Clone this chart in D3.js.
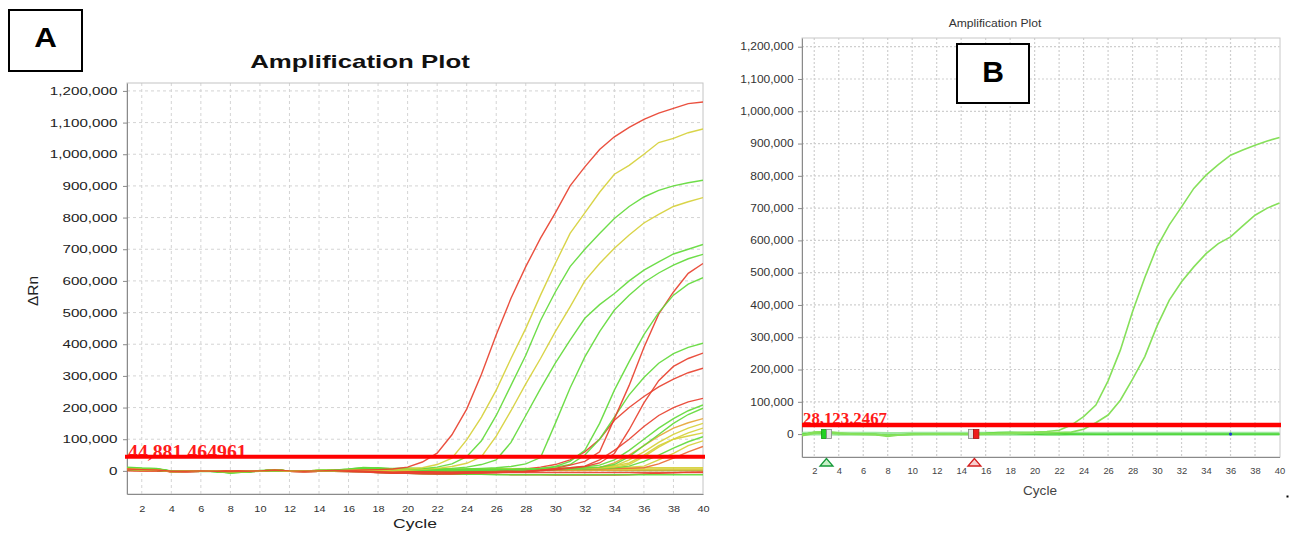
<!DOCTYPE html>
<html><head><meta charset="utf-8">
<script src="https://cdn.jsdelivr.net/npm/d3@7"></script>
<style>
body{margin:0;background:#fff;}
svg{display:block;font-family:"Liberation Sans",Arial,sans-serif;}
</style>
</head><body>
<svg id="c" width="1289" height="538"></svg>
<script>
// ---------- DATA (ΔRn values in thousands) ----------
const cycles = [1,2,3,4,5,6,7,8,9,10,11,12,13,14,15,16,17,18,19,20,21,22,23,24,25,26,27,28,29,30,31,32,33,34,35,36,37,38,39,40];
const xTickValues = [2,4,6,8,10,12,14,16,18,20,22,24,26,28,30,32,34,36,38,40];
const yTickValues = [0,100,200,300,400,500,600,700,800,900,1000,1100,1200];

const titleA = "Amplification Plot";
const titleB = "Amplification Plot";
const thresholdA = 44.881464961;   // thousands
const thresholdALabel = "44,881.464961";
const thresholdB = 28.1232467;
const thresholdBLabel = "28,123.2467";

// Panel A wells
const curveA01 = [6,4,3,-1,-1,0,-1,-2,-1,0,3,0,-1,0,1,1,3,4,6,12,28,56,114,195,305,430,545,645,735,815,900,960,1015,1055,1085,1110,1130,1145,1160,1165];
const curveA02 = [8,5,4,-2,-1,0,-1,-3,-2,0,2,-1,-1,0,0,2,4,3,5,6,10,20,40,98,170,255,355,450,555,655,750,815,880,937,965,1000,1037,1050,1068,1080];
const curveA03 = [12,9,8,0,-1,0,-2,-7,-4,1,3,0,-1,1,2,6,10,7,4,5,7,12,22,45,95,175,270,365,475,565,645,700,750,797,835,865,886,900,910,918];
const curveA04 = [5,3,3,-1,0,0,-1,-3,-2,0,3,0,0,1,2,2,3,2,1,2,5,8,14,24,45,110,190,275,355,440,518,600,655,703,745,783,810,835,850,863];
const curveA05 = [10,7,6,-1,-1,0,-2,-5,-3,0,2,0,-1,0,1,3,5,6,8,9,8,7,8,12,20,35,90,175,260,340,413,482,525,560,600,634,660,685,700,715];
const curveA06 = [4,3,2,-2,-1,0,-1,-4,-2,0,2,0,-1,0,1,3,6,8,5,3,2,3,5,6,8,10,14,22,42,150,262,360,440,508,555,595,625,650,670,684];
const curveA07 = [9,6,5,-1,-1,0,-2,-4,-3,0,2,0,0,1,1,4,8,10,6,4,3,4,3,5,4,6,5,7,8,14,30,65,150,255,345,430,500,555,590,610];
const curveA08 = [3,2,2,-2,-2,-1,-1,-2,-1,-1,3,-1,-2,-1,0,0,1,-3,-5,-4,-2,-3,-4,-3,-5,-4,-3,-2,2,8,18,30,60,165,270,390,495,565,624,655];
const curveA09 = [7,5,4,-1,-1,0,-1,-4,-2,0,2,0,-1,0,1,2,4,5,4,3,2,1,0,1,2,3,4,6,8,12,20,50,100,170,240,295,340,370,390,403];
const curveA10 = [2,1,1,-2,-2,-1,-1,-2,-1,-1,2,-1,-2,-1,-1,-2,-3,-6,-8,-7,-6,-8,-9,-7,-6,-5,-4,-3,0,4,8,14,25,55,130,215,285,330,355,372];
const curveA11 = [4,2,2,-1,-1,0,-1,-2,-1,0,3,0,-1,0,0,1,0,-2,-3,-2,-3,-4,-3,-2,-1,0,3,6,12,20,35,60,100,160,200,235,265,290,310,324];
const curveA12 = [1,0,0,-2,-2,-1,-1,-2,-2,-1,2,-1,-2,-1,-1,-1,-2,-4,-6,-8,-9,-10,-9,-8,-7,-5,-3,-1,2,5,10,15,35,65,100,140,175,200,218,229];
const curveA13 = [6,5,4,-1,-1,0,-2,-5,-3,0,2,0,-1,1,2,4,7,6,4,2,1,0,-1,0,1,2,3,4,5,7,10,13,18,35,65,100,135,165,190,208];
const curveA14 = [8,6,5,-1,-1,0,-1,-4,-3,0,2,0,0,1,2,3,5,4,3,2,1,1,0,0,1,1,2,3,4,5,6,9,12,20,45,80,115,150,178,198];
const curveA15 = [2,1,1,-2,-1,0,-1,-2,-1,0,2,-1,-1,0,0,0,-1,-2,-3,-3,-2,-2,-1,0,1,2,3,4,5,6,7,8,10,25,50,80,110,135,152,165];
const curveA16 = [3,2,2,-2,-1,0,-1,-2,-1,0,2,0,-1,0,1,1,2,1,0,-1,0,1,2,2,3,3,4,4,5,6,7,8,10,15,35,60,90,115,135,150];
const curveA17 = [4,3,3,-1,-1,0,-1,-2,-1,0,2,0,0,0,1,1,2,2,1,1,2,2,3,3,4,4,5,5,6,6,7,8,9,12,20,45,75,100,120,135];
const curveA18 = [5,3,3,-1,-1,0,-1,-2,-2,0,2,0,0,1,1,2,3,2,2,1,1,2,2,3,3,4,4,5,6,7,8,10,12,16,25,50,80,100,110,120];
const curveA19 = [9,7,6,-1,-1,0,-2,-6,-4,0,2,0,-1,0,1,3,6,7,5,3,2,1,0,0,1,1,2,2,3,4,5,6,7,10,15,30,50,72,92,108];
const curveA20 = [2,1,1,-2,-2,-1,-1,-2,-1,-1,2,-1,-2,-1,-1,-1,-2,-3,-4,-4,-4,-3,-3,-2,-2,-1,0,1,2,3,4,5,6,7,8,10,22,40,60,77];
const curveA21 = [3,2,2,-1,-1,0,-1,-2,-1,0,2,0,-1,0,0,1,2,2,2,2,3,3,3,4,4,5,5,6,6,7,8,9,10,11,12,15,35,55,80,95];
const curveA22 = [4,3,3,-1,-1,0,-1,-2,-1,0,2,0,0,1,1,2,3,3,4,4,5,5,6,6,7,7,7,8,8,8,8,9,9,9,9,10,10,10,10,10];
const curveA23 = [2,1,1,-1,-1,0,-1,-2,-1,0,2,0,-1,0,0,1,1,1,2,2,2,2,3,3,3,3,4,4,4,4,4,5,5,5,5,5,6,6,6,6];
const curveA24 = [1,1,0,-2,-2,-1,-1,-2,-2,-1,2,-1,-2,-1,-1,-1,-2,-3,-4,-4,-4,-4,-5,-5,-5,-5,-5,-5,-5,-5,-5,-5,-5,-5,-5,-5,-5,-5,-5,-5];
const curveA25 = [3,2,2,-2,-2,-1,-2,-6,-4,-1,1,-1,-2,-1,-1,-2,-3,-5,-7,-8,-9,-10,-10,-11,-11,-12,-12,-12,-12,-12,-12,-12,-12,-12,-12,-12,-12,-12,-12,-12];
const curveA26 = [2,1,1,-2,-2,-1,-1,-2,-2,-1,2,-1,-2,-1,-1,-2,-3,-5,-7,-8,-9,-10,-10,-11,-11,-11,-12,-12,-12,-13,-13,-13,-13,-13,-12,-10,-8,-6,-4,-3];
const curveA27 = [3,2,2,-1,-1,0,-1,-2,-1,0,2,0,-1,0,0,1,2,2,2,3,3,3,3,3,2,2,2,1,1,1,1,1,2,2,2,3,3,3,3,3];
const curveA28 = [10,8,7,-1,-1,0,-1,-5,-3,0,2,0,0,1,2,5,11,9,7,5,4,4,3,3,3,2,2,2,2,2,2,2,2,1,1,1,1,1,1,1];

const seriesA = [curveA01,curveA02,curveA03,curveA04,curveA05,curveA06,curveA07,curveA08,curveA09,curveA10,
                 curveA11,curveA12,curveA13,curveA14,curveA15,curveA16,curveA17,curveA18,curveA19,curveA20,
                 curveA21,curveA22,curveA23,curveA24,curveA25,curveA26,curveA27,curveA28];
const groupA = ["red","yellow","green","yellow","green","green","green","red","green","red",
                "red","red","green","green","orange","yellow","yellow","yellow","green","orangered",
                "yellow","yellow","yellow","red","green","red","orange","green"];

// Panel B wells
const curveB01 = [-3,6,8,4,1,0,-2,-7,-3,-1,0,1,0,0,1,2,3,4,5,6,8,12,28,54,90,165,260,380,485,580,648,704,761,802,835,864,880,895,908,919];
const curveB02 = [-5,2,4,1,0,-1,-1,-4,-2,0,0,0,1,0,-1,0,1,2,3,4,4,5,6,15,35,59,105,170,240,335,415,472,518,559,590,611,645,678,700,716];
const curveB03 = [0,4,3,1,0,0,-1,-3,-2,-1,0,0,1,1,2,3,5,6,5,4,3,2,1,0,-1,-1,0,0,0,0,0,0,0,0,0,0,0,0,0,0];
const curveB04 = [-2,5,6,2,1,0,-1,-5,-2,0,1,0,0,1,0,1,2,1,0,-1,-2,-2,-1,0,0,0,0,0,0,0,0,0,0,0,0,0,0,0,0,0];
const curveB05 = [1,2,2,1,1,1,1,0,0,1,1,1,1,1,1,1,1,1,1,1,1,1,1,1,1,1,1,1,1,1,1,1,1,1,1,1,1,1,1,1];
const baselineStartB = 3;
const baselineEndB = 15;
const bluePointB = [36, 0];

// ---------- STYLE ----------
const palette = {red:"#e8412f", yellow:"#d6d03a", green:"#62da3a", orange:"#e6a53a", orangered:"#ea6a36"};
const svg = d3.select("#c");

function stretchedText(g, x, y, sx, txt, opts){
  const t = g.append("text").attr("transform",`translate(${x},${y}) scale(${sx},1)`).text(txt);
  for (const k in opts) t.attr(k, opts[k]);
  return t;
}

// ================= PANEL A =================
const xA = d3.scaleLinear().domain([1,40]).range([127,703]);
const yA = d3.scaleLinear().domain([-73,1225]).range([494,83]);
const gA = svg.append("g");

gA.append("defs").append("clipPath").attr("id","clipA").append("rect")
  .attr("x",xA(1)).attr("y",yA(1225)).attr("width",xA(40)-xA(1)).attr("height",yA(-73)-yA(1225));

// grid
gA.append("g").selectAll("line").data(xTickValues.filter(d=>d<40)).join("line")
  .attr("x1",d=>xA(d)).attr("x2",d=>xA(d)).attr("y1",yA(1225)).attr("y2",yA(-73))
  .attr("stroke","#d4d4d4").attr("stroke-dasharray","3,3");
gA.append("g").selectAll("line").data(yTickValues).join("line")
  .attr("x1",xA(1)).attr("x2",xA(40)).attr("y1",d=>yA(d)).attr("y2",d=>yA(d))
  .attr("stroke","#d4d4d4").attr("stroke-dasharray","3,3");
gA.append("rect").attr("x",xA(1)).attr("y",yA(1225)).attr("width",xA(40)-xA(1)).attr("height",yA(-73)-yA(1225))
  .attr("fill","none").attr("stroke","#c4c4c4");

// axes
const axA = gA.append("g").attr("transform",`translate(${xA(1)},0)`)
  .call(d3.axisLeft(yA).tickValues(yTickValues).tickSize(4).tickSizeOuter(0).tickFormat(d=>d3.format(",")(d*1000)));
axA.select(".domain").attr("stroke","#8a8a8a");
axA.selectAll(".tick line").attr("stroke","#8a8a8a");
axA.selectAll(".tick text").attr("font-size",11).attr("fill","#222").attr("font-family","Liberation Sans, Arial")
  .attr("transform","scale(1.38,1)");
const bxA = gA.append("g").attr("transform",`translate(0,${yA(-73)})`)
  .call(d3.axisBottom(xA).tickValues(xTickValues).tickSize(0).tickPadding(11).tickSizeOuter(0));
bxA.select(".domain").attr("stroke","#8a8a8a");
bxA.selectAll(".tick text").attr("font-size",9.5).attr("fill","#333").attr("font-family","Liberation Sans, Arial")
  .attr("transform","scale(1.15,1)");

// curves
const lineA = d3.line().x((d,i)=>xA(cycles[i])).y(d=>yA(d));
const curvesA = gA.append("g").attr("clip-path","url(#clipA)");
for (let k = seriesA.length-1; k >= 0; k--) {
  curvesA.append("path").attr("d",lineA(seriesA[k])).attr("fill","none")
    .attr("stroke",palette[groupA[k]]).attr("stroke-width",1.4).attr("stroke-opacity",0.92);
}

// threshold
stretchedText(gA, xA(1)+1, 458, 1.1, thresholdALabel, {"font-family":"Liberation Serif, Times New Roman, serif","font-size":18,"font-weight":"bold","fill":"#ff1a1a"});
gA.append("line").attr("x1",xA(1)-2).attr("x2",xA(40)+2).attr("y1",yA(thresholdA)).attr("y2",yA(thresholdA))
  .attr("stroke","#ff0000").attr("stroke-width",4);

// titles
stretchedText(gA, 360, 68, 1.39, titleA, {"font-size":18.6,"font-weight":"bold","text-anchor":"middle","fill":"#111"});
stretchedText(gA, 415, 528, 1.3, "Cycle", {"font-size":13.5,"text-anchor":"middle","fill":"#222"});
gA.append("text").attr("transform","translate(38,291) rotate(-90) scale(1.1,1)")
  .attr("font-size",14).attr("text-anchor","middle").attr("fill","#222").text("ΔRn");

// panel label A
gA.append("rect").attr("x",9).attr("y",10).attr("width",73).attr("height",61).attr("fill","#fff").attr("stroke","#000").attr("stroke-width",2);
stretchedText(gA, 45.5, 46.7, 1.12, "A", {"font-size":28,"font-weight":"bold","text-anchor":"middle","fill":"#000"});

// ================= PANEL B =================
const xB = d3.scaleLinear().domain([1,40]).range([802,1279.5]);
const yB = d3.scaleLinear().domain([-71,1227]).range([457,38]);
const gB = svg.append("g");
const defsB = gB.append("defs");
defsB.append("clipPath").attr("id","clipB").append("rect")
  .attr("x",xB(1)).attr("y",yB(1227)).attr("width",xB(40)-xB(1)+1).attr("height",yB(-71)-yB(1227));

gB.append("g").selectAll("line").data(xTickValues.filter(d=>d<40)).join("line")
  .attr("x1",d=>xB(d)).attr("x2",d=>xB(d)).attr("y1",yB(1227)).attr("y2",yB(-71))
  .attr("stroke","#cfcfcf").attr("stroke-dasharray","2,2").attr("stroke-width",1.2);
gB.append("g").selectAll("line").data(yTickValues).join("line")
  .attr("x1",xB(1)).attr("x2",xB(40)).attr("y1",d=>yB(d)).attr("y2",d=>yB(d))
  .attr("stroke","#cfcfcf").attr("stroke-dasharray","2,2").attr("stroke-width",1.2);
gB.append("rect").attr("x",xB(1)).attr("y",yB(1227)).attr("width",xB(40)-xB(1)+0.5).attr("height",yB(-71)-yB(1227))
  .attr("fill","none").attr("stroke","#c8c8c8");

const axB = gB.append("g").attr("transform",`translate(${xB(1)},0)`)
  .call(d3.axisLeft(yB).tickValues(yTickValues).tickSize(4).tickSizeOuter(0).tickFormat(d=>d3.format(",")(d*1000)));
axB.select(".domain").attr("stroke","#8a8a8a");
axB.selectAll(".tick line").attr("stroke","#8a8a8a");
axB.selectAll(".tick text").attr("font-size",10).attr("fill","#333").attr("font-family","Liberation Sans, Arial")
  .attr("transform","scale(1.2,1)");
const bxB = gB.append("g").attr("transform",`translate(0,${yB(-71)})`)
  .call(d3.axisBottom(xB).tickValues(xTickValues).tickSize(0).tickPadding(11).tickSizeOuter(0));
bxB.select(".domain").attr("stroke","#8a8a8a");
bxB.selectAll(".tick text").attr("font-size",8.5).attr("fill","#444").attr("font-family","Liberation Sans, Arial")
  .attr("transform","scale(1.1,1)");

const lineB = d3.line().x((d,i)=>xB(cycles[i])).y(d=>yB(d));
const curvesB = gB.append("g").attr("clip-path","url(#clipB)");
curvesB.append("path").attr("d",lineB(curveB05)).attr("fill","none").attr("stroke","#93e693").attr("stroke-width",4).attr("stroke-opacity",0.9);
[curveB03,curveB04].forEach(s=>curvesB.append("path").attr("d",lineB(s)).attr("fill","none").attr("stroke","#4fd63a").attr("stroke-width",1.2));
[curveB02,curveB01].forEach(s=>curvesB.append("path").attr("d",lineB(s)).attr("fill","none").attr("stroke","#86e05a").attr("stroke-width",1.6));

// baseline markers
const ms = xB(baselineStartB), me = xB(baselineEndB), y0 = yB(0);
gB.append("rect").attr("x",ms-5).attr("y",y0-4.5).attr("width",5).attr("height",9).attr("fill","#22d022").attr("stroke","#119911").attr("stroke-width",0.8);
gB.append("rect").attr("x",ms).attr("y",y0-4.5).attr("width",5).attr("height",9).attr("fill","#e4e4e4").attr("stroke","#888").attr("stroke-width",0.8);
gB.append("rect").attr("x",me-5).attr("y",y0-4.5).attr("width",5).attr("height",9).attr("fill","#e4e4e4").attr("stroke","#888").attr("stroke-width",0.8);
gB.append("rect").attr("x",me).attr("y",y0-4.5).attr("width",5.5).attr("height",9).attr("fill","#ee1c1c").attr("stroke","#aa1111").attr("stroke-width",0.8);
const tri = (cx, col, fill) => gB.append("path")
  .attr("d",`M${cx},${yB(-71)+1.5} L${cx-6.5},${yB(-71)+9} L${cx+6.5},${yB(-71)+9} Z`)
  .attr("fill",fill).attr("stroke",col).attr("stroke-width",1.3);
tri(ms, "#169a3a", "#c8f0c8");
tri(me+1, "#d42020", "#f8d0d0");
gB.append("circle").attr("cx",xB(bluePointB[0])).attr("cy",yB(bluePointB[1])).attr("r",1.6).attr("fill","#1f3fd0");

// threshold B
stretchedText(gB, xB(1)+1, 424, 1.05, thresholdBLabel, {"font-family":"Liberation Serif, Times New Roman, serif","font-size":16,"font-weight":"bold","fill":"#ff1a1a"});
gB.append("line").attr("x1",xB(1)).attr("x2",xB(40)+1.5).attr("y1",yB(thresholdB)).attr("y2",yB(thresholdB))
  .attr("stroke","#ff0000").attr("stroke-width",4.5);

stretchedText(gB, 995, 27, 1.1, titleB, {"font-size":11,"text-anchor":"middle","fill":"#333"});
stretchedText(gB, 1040, 495, 1.13, "Cycle", {"font-size":12,"text-anchor":"middle","fill":"#444"});

gB.append("rect").attr("x",957).attr("y",44).attr("width",72).attr("height",59).attr("fill","#fff").attr("stroke","#000").attr("stroke-width",2);
stretchedText(gB, 993, 81.7, 1.0, "B", {"font-size":30,"font-weight":"bold","text-anchor":"middle","fill":"#000"});
svg.append("rect").attr("x",1286.5).attr("y",495.5).attr("width",2).attr("height",2).attr("fill","#000");
</script>
</body></html>
